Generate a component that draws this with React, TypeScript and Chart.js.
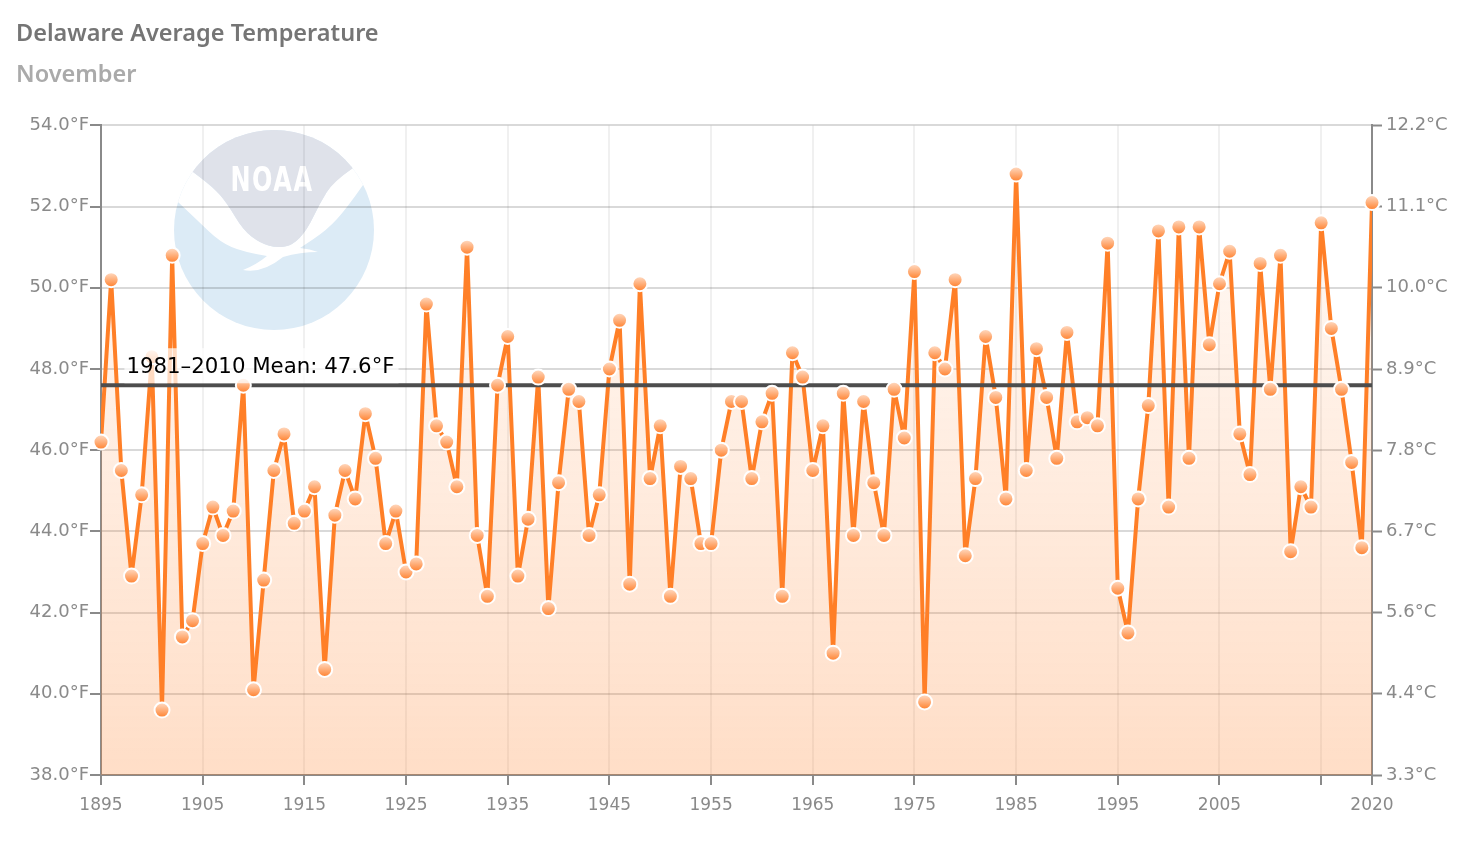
import React, { useEffect, useRef } from "react";
import { Chart, registerables } from "chart.js";

Chart.register(...registerables);

const startYear = 1895;
const endYear = 2020;
const temperatures = [
  46.2, 50.2, 45.5, 42.9, 44.9, 48.3, 39.6, 50.8, 41.4, 41.8,
  43.7, 44.6, 43.9, 44.5, 47.6, 40.1, 42.8, 45.5, 46.4, 44.2,
  44.5, 45.1, 40.6, 44.4, 45.5, 44.8, 46.9, 45.8, 43.7, 44.5,
  43.0, 43.2, 49.6, 46.6, 46.2, 45.1, 51.0, 43.9, 42.4, 47.6,
  48.8, 42.9, 44.3, 47.8, 42.1, 45.2, 47.5, 47.2, 43.9, 44.9,
  48.0, 49.2, 42.7, 50.1, 45.3, 46.6, 42.4, 45.6, 45.3, 43.7,
  43.7, 46.0, 47.2, 47.2, 45.3, 46.7, 47.4, 42.4, 48.4, 47.8,
  45.5, 46.6, 41.0, 47.4, 43.9, 47.2, 45.2, 43.9, 47.5, 46.3,
  50.4, 39.8, 48.4, 48.0, 50.2, 43.4, 45.3, 48.8, 47.3, 44.8,
  52.8, 45.5, 48.5, 47.3, 45.8, 48.9, 46.7, 46.8, 46.6, 51.1,
  42.6, 41.5, 44.8, 47.1, 51.4, 44.6, 51.5, 45.8, 51.5, 48.6,
  50.1, 50.9, 46.4, 45.4, 50.6, 47.5, 50.8, 43.5, 45.1, 44.6,
  51.6, 49.0, 47.5, 45.7, 43.6, 52.1,
];
const years = temperatures.map((_, i) => startYear + i);
const meanValue = 47.6;
const meanLabel = "1981–2010 Mean: 47.6°F";
const xTicks = [1895, 1905, 1915, 1925, 1935, 1945, 1955, 1965, 1975, 1985, 1995, 2005, 2015, 2020];
const xLabels = ["1895", "1905", "1915", "1925", "1935", "1945", "1955", "1965", "1975", "1985", "1995", "2005", "", "2020"];
const yTicks = [38, 40, 42, 44, 46, 48, 50, 52, 54];
const yLabels = ["38.0°F", "40.0°F", "42.0°F", "44.0°F", "46.0°F", "48.0°F", "50.0°F", "52.0°F", "54.0°F"];
const cLabels = ["3.3°C", "4.4°C", "5.6°C", "6.7°C", "7.8°C", "8.9°C", "10.0°C", "11.1°C", "12.2°C"];

const FONT = "'DejaVu Sans', sans-serif";
const TITLE_FONT = "'Noto Sans', sans-serif";
const AXIS = "#8a8a8a";
const ORANGE = "#ff7f27";

function setTicks(values: number[]) {
  return (scale: any) => {
    scale.ticks = values.map((value) => ({ value }));
  };
}

function smooth(c: CanvasRenderingContext2D, pts: number[][]) {
  for (let i = 1; i < pts.length - 1; i++) {
    const mx = (pts[i][0] + pts[i + 1][0]) / 2;
    const my = (pts[i][1] + pts[i + 1][1]) / 2;
    c.quadraticCurveTo(pts[i][0], pts[i][1], mx, my);
  }
  const last = pts[pts.length - 1];
  c.lineTo(last[0], last[1]);
}

const grayEdge = [
  [193, 172], [213, 187], [227, 203], [243, 230], [260, 243], [277, 248],
  [293, 245], [307, 230], [320, 203], [333, 182], [353, 168],
];
const blueEdgeRight = [[363, 185], [347, 208], [327, 230], [300, 248]];
const blueEdgeLeft = [[267, 256], [243, 252], [220, 242], [197, 220], [178, 202]];

const logoPlugin = {
  id: "noaaLogo",
  beforeDraw(chart: any) {
    const c = chart.ctx as CanvasRenderingContext2D;
    c.save();
    c.beginPath();
    c.arc(274, 230, 100, 0, Math.PI * 2);
    c.clip();
    c.fillStyle = "#dcebf6";
    c.fillRect(170, 126, 208, 208);

    c.fillStyle = "#ffffff";
    c.beginPath();
    c.moveTo(170, 172);
    c.lineTo(193, 172);
    smooth(c, grayEdge);
    c.lineTo(378, 168);
    c.lineTo(378, 185);
    c.lineTo(363, 185);
    smooth(c, blueEdgeRight);
    c.quadraticCurveTo(310, 249, 318, 252);
    c.quadraticCurveTo(300, 252, 283, 257);
    c.quadraticCurveTo(262, 274, 243, 270);
    c.quadraticCurveTo(256, 265, 267, 256);
    smooth(c, blueEdgeLeft);
    c.lineTo(170, 202);
    c.closePath();
    c.fill();

    c.fillStyle = "#dfe2ea";
    c.beginPath();
    c.moveTo(170, 126);
    c.lineTo(378, 126);
    c.lineTo(378, 168);
    c.lineTo(353, 168);
    smooth(c, [...grayEdge].reverse());
    c.lineTo(170, 172);
    c.closePath();
    c.fill();

    c.fillStyle = "#ffffff";
    c.font = "bold 24px 'DejaVu Sans', sans-serif";
    (c as any).letterSpacing = "1.5px";
    c.textAlign = "center";
    c.textBaseline = "middle";
    c.translate(272, 182);
    c.scale(1, 1.4);
    c.fillText("NOAA", 0, 0);
    c.restore();
  },
};

const meanLabelPlugin = {
  id: "meanLabel",
  afterDatasetsDraw(chart: any) {
    const c = chart.ctx as CanvasRenderingContext2D;
    const y = chart.scales.y.getPixelForValue(meanValue);
    const x = chart.scales.x.getPixelForValue(1897.5);
    c.save();
    c.font = "21.3px 'DejaVu Sans', sans-serif";
    const w = c.measureText(meanLabel).width;
    c.fillStyle = "rgba(255,255,255,0.72)";
    c.fillRect(x - 2, y - 37, w + 6, 35);
    c.fillStyle = "#000000";
    c.textAlign = "left";
    c.textBaseline = "middle";
    c.fillText(meanLabel, x, y - 18);
    c.restore();
  },
};

export default function App() {
  const ref = useRef<HTMLCanvasElement>(null);

  useEffect(() => {
    const chart = new Chart(ref.current!, {
      type: "line",
      plugins: [logoPlugin, meanLabelPlugin],
      data: {
        datasets: [
          {
            label: "Mean",
            data: [
              { x: startYear, y: meanValue },
              { x: endYear, y: meanValue },
            ],
            borderColor: "#4d4d4d",
            borderWidth: 4,
            pointRadius: 0,
            order: 2,
          },
          {
            label: "Temperature",
            data: years.map((x, i) => ({ x, y: temperatures[i] })),
            borderColor: ORANGE,
            borderWidth: 4,
            borderJoinStyle: "round",
            pointRadius: 0,
            tension: 0,
            fill: "start",
            backgroundColor: (ctx: any) => {
              const area = ctx.chart.chartArea;
              if (!area || !Number.isFinite(area.top) || !Number.isFinite(area.bottom)) return "rgba(255,127,39,0.1)";
              const g = ctx.chart.ctx.createLinearGradient(0, area.top, 0, area.bottom);
              g.addColorStop(0, "rgba(255,127,39,0.02)");
              g.addColorStop(1, "rgba(255,127,39,0.26)");
              return g;
            },
            order: 3,
          },
          {
            label: "Points",
            data: years.map((x, i) => ({ x, y: temperatures[i] })),
            showLine: false,
            pointRadius: 7.5,
            pointHoverRadius: 7.5,
            pointBorderWidth: 2,
            pointBorderColor: "#ffffff",
            clip: false,
            pointBackgroundColor: (ctx: any) => {
              const scale = ctx.chart.scales.y;
              if (!scale || !ctx.parsed) return ORANGE;
              const y = scale.getPixelForValue(ctx.parsed.y);
              if (!Number.isFinite(y)) return ORANGE;
              const g = ctx.chart.ctx.createLinearGradient(0, y - 7, 0, y + 7);
              g.addColorStop(0, "#ffd9c0");
              g.addColorStop(1, "#ff8433");
              return g;
            },
            order: 1,
          },
        ],
      },
      options: {
        responsive: false,
        animation: false,
        layout: { padding: { left: 16, right: 0, top: 20, bottom: 0 } },
        plugins: {
          legend: { display: false },
          tooltip: { enabled: false },
          title: {
            display: true,
            text: "Delaware Average Temperature",
            align: "start",
            color: "#757575",
            font: { family: TITLE_FONT, size: 23.5, weight: "600" },
            padding: { top: 0, bottom: 6 },
          },
          subtitle: {
            display: true,
            text: "November",
            align: "start",
            color: "#aaaaaa",
            font: { family: TITLE_FONT, size: 23.5, weight: "600" },
            padding: { top: 7, bottom: 36 },
          },
        },
        scales: {
          x: {
            type: "linear",
            min: startYear,
            max: endYear,
            afterBuildTicks: setTicks(xTicks),
            afterFit: (s: any) => {
              s.height = 91;
            },
            grid: { color: "rgba(0,0,0,0.06)", lineWidth: 2, tickColor: AXIS, tickLength: 10, tickWidth: 2 },
            border: { color: AXIS, width: 2 },
            ticks: {
              color: AXIS,
              font: { family: FONT, size: 17 },
              padding: 10,
              autoSkip: false,
              maxRotation: 0,
              callback: (v: any) => xLabels[xTicks.indexOf(Number(v))] ?? "",
            },
          },
          y: {
            type: "linear",
            position: "left",
            min: 38,
            max: 54,
            afterBuildTicks: setTicks(yTicks),
            afterFit: (s: any) => {
              s.width = 85;
            },
            grid: { color: "rgba(0,0,0,0.15)", lineWidth: 2, tickColor: AXIS, tickLength: 11, tickWidth: 2 },
            border: { color: AXIS, width: 2 },
            ticks: {
              color: AXIS,
              font: { family: FONT, size: 18 },
              padding: 1,
              autoSkip: false,
              callback: (v: any) => yLabels[yTicks.indexOf(Number(v))] ?? "",
            },
          },
          y2: {
            type: "linear",
            position: "right",
            min: 38,
            max: 54,
            afterBuildTicks: setTicks(yTicks),
            afterFit: (s: any) => {
              s.width = 96;
            },
            grid: { drawOnChartArea: false, tickColor: AXIS, tickLength: 10, tickWidth: 2 },
            border: { color: AXIS, width: 2 },
            ticks: {
              color: AXIS,
              font: { family: FONT, size: 18 },
              padding: 4,
              autoSkip: false,
              callback: (v: any) => cLabels[yTicks.indexOf(Number(v))] ?? "",
            },
          },
        },
      } as any,
    } as any);
    return () => chart.destroy();
  }, []);

  return (
    <div style={{ position: "absolute", left: 0, top: 0, width: 1468, height: 866, background: "#fff" }}>
      <canvas ref={ref} width={1468} height={866} style={{ display: "block" }} />
    </div>
  );
}
